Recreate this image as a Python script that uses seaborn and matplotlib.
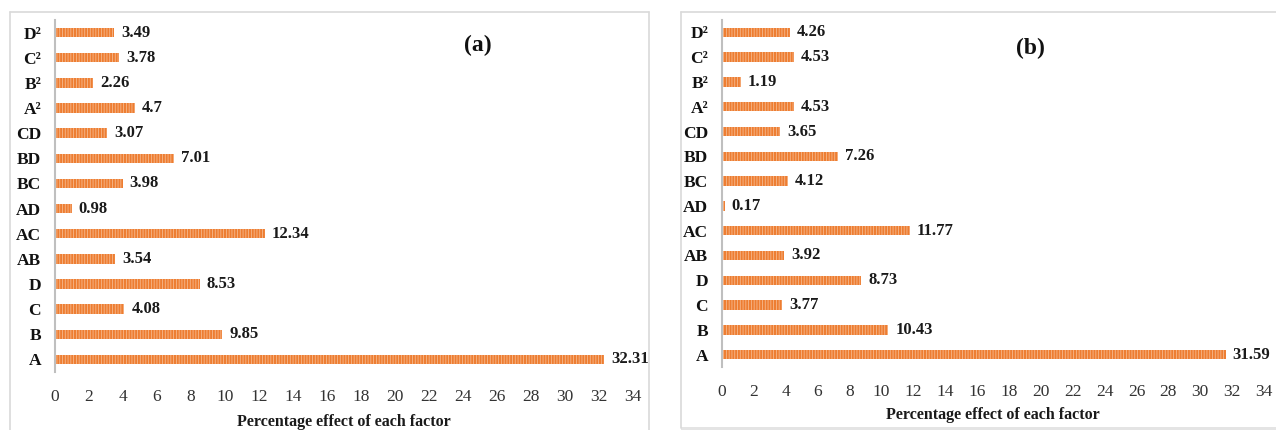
import matplotlib
matplotlib.use("Agg")
import matplotlib.pyplot as plt
from matplotlib.patches import Rectangle
from matplotlib.lines import Line2D
import seaborn as sns
import pandas as pd

# Model terms, listed from top to bottom of each chart
factors = ["D²", "C²", "B²", "A²", "CD", "BD", "BC", "AD", "AC", "AB", "D", "C", "B", "A"]

# Percentage contribution of each term
effect_a = [3.49, 3.78, 2.26, 4.7, 3.07, 7.01, 3.98, 0.98, 12.34, 3.54, 8.53, 4.08, 9.85, 32.31]
effect_b = [4.26, 4.53, 1.19, 4.53, 3.65, 7.26, 4.12, 0.17, 11.77, 3.92, 8.73, 3.77, 10.43, 31.59]

x_ticks = list(range(0, 35, 2))
x_label = "Percentage effect of each factor"
panel_tags = ["(a)", "(b)"]

sns.set_theme(style="white")
plt.rcParams["font.family"] = ["Liberation Serif", "DejaVu Serif"]
plt.rcParams["hatch.linewidth"] = 0.6

BAR = "#ED7D31"
STRIPE = "#F6B98E"
SPINE = "#BFBFBF"
FRAME = "#D9D9D9"

W, H = 1276, 430
fig = plt.figure(figsize=(W / 100, H / 100), dpi=100)


def px_axes(left, top, right, bottom):
    return fig.add_axes([left / W, 1 - bottom / H, (right - left) / W, (bottom - top) / H])


# Light frames around both panels
fig.add_artist(Line2D([10 / W, 10 / W], [0, 1 - 12 / H], color=FRAME, lw=1.2, transform=fig.transFigure))
fig.add_artist(Line2D([10 / W, 649 / W], [1 - 12 / H, 1 - 12 / H], color=FRAME, lw=1.2, transform=fig.transFigure))
fig.add_artist(Line2D([649 / W, 649 / W], [0, 1 - 12 / H], color=FRAME, lw=1.2, transform=fig.transFigure))
fig.add_artist(Line2D([681 / W, 681 / W], [2 / H, 1 - 12 / H], color=FRAME, lw=1.2, transform=fig.transFigure))
fig.add_artist(Line2D([681 / W, 1], [1 - 12 / H, 1 - 12 / H], color=FRAME, lw=1.2, transform=fig.transFigure))
fig.add_artist(Rectangle((681 / W, 0), 1, 3 / H, facecolor="#E4E4E4", edgecolor="none", transform=fig.transFigure))

axes_px = [(55, 20, 633, 372), (722, 20, 1264, 367)]
label_y = [422, 415]
tag_pos = [(478, 45), (1030, 48)]

for i, (vals, box) in enumerate(zip([effect_a, effect_b], axes_px)):
    ax = px_axes(*box)
    df = pd.DataFrame({"factor": factors, "effect": vals})
    sns.barplot(data=df, x="effect", y="factor", order=factors, ax=ax,
                color=BAR, width=0.38, saturation=1, edgecolor=STRIPE,
                linewidth=0, hatch="||||||")
    ax.bar_label(ax.containers[0], fmt="{:g}", padding=5,
                 fontsize=12, fontweight="bold", color="#1a1a1a")
    ax.set_xlim(0, 34)
    ax.set_xticks(x_ticks)
    ax.set_xlabel("")
    ax.set_ylabel("")
    for s in ["top", "right", "bottom"]:
        ax.spines[s].set_visible(False)
    ax.spines["left"].set_color(SPINE)
    ax.spines["left"].set_linewidth(1.5)
    ax.tick_params(axis="x", length=0, pad=12, labelsize=12.5, labelcolor="#333333")
    ax.tick_params(axis="y", length=0, pad=10, labelsize=12.5, labelcolor="#111111")
    for t in ax.get_yticklabels():
        t.set_fontweight("bold")
    ax.set_facecolor("none")
    cx = (box[0] + box[2]) / 2 / W
    fig.text(cx, 1 - label_y[i] / H, x_label, ha="center", va="center",
             fontsize=11.5, fontweight="bold", color="#1a1a1a")
    tx, ty = tag_pos[i]
    fig.text(tx / W, 1 - ty / H, panel_tags[i], ha="center", va="center",
             fontsize=17, fontweight="bold", color="#111111")

fig.savefig("out.png", dpi=100)
